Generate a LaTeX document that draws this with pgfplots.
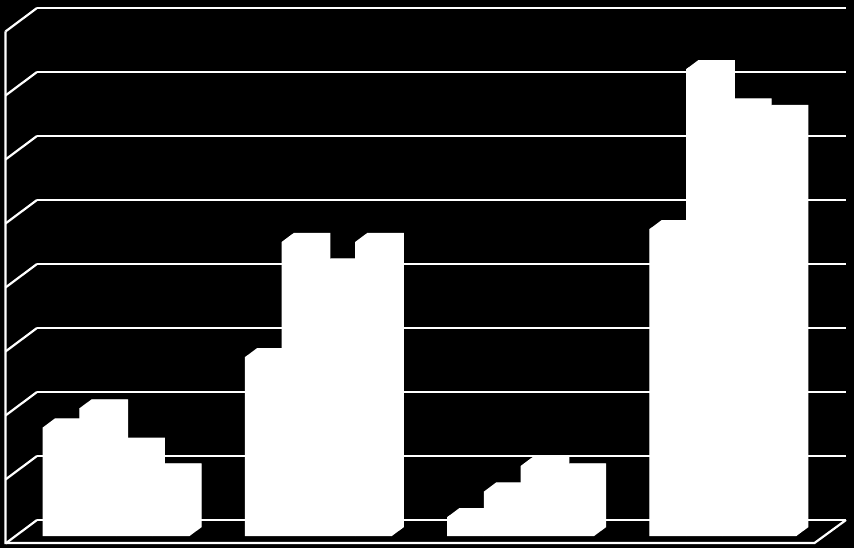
\documentclass[border=0pt]{standalone}
\usepackage{pgfplots}
\usepackage{pgfplotstable}
\pgfplotsset{compat=1.18}

\pgfplotstableread{
g   a    b    c    d
0.5 8.5  10   7    5
1.5 14   23   21   23
2.5 1.5  3.5  5.5  5
3.5 24   36.5 33.5 33
}\bars

\begin{document}
\begin{tikzpicture}[x=1pt,y=1pt]
\fill[black] (0,0) rectangle (854,548);
\useasboundingbox (0,0) rectangle (854,548);
\begin{axis}[
  at={(37pt,28pt)}, anchor=south west,
  scale only axis,
  width=809pt, height=512pt,
  xmin=0, xmax=4,
  ymin=0, ymax=40,
  clip=false,
  xtick=\empty,
  ytick={0,5,...,40},
  yticklabels={},
  axis line style={draw=none},
  tick style={draw=none},
  ymajorgrids,
  major grid style={white,line width=2.2pt},
  barlayer/.style={ybar,bar width=36.7pt,fill=white,draw=none,
    xshift={-10pt-0.5pt*#1},yshift={-7.3pt-0.37pt*#1}},
]
% side wall and floor
\pgfplotsinvokeforeach{0,5,...,40}{
  \draw[white,line width=2.2pt] (axis cs:0,#1) -- ++(-31.5pt,-23.5pt);
}
\draw[white,line width=2.2pt,line join=miter]
  (axis cs:0,40) ++(-31.5pt,-23.5pt) -- ++(0,-511.5pt) -- ++(809pt,0) -- (axis cs:4,0);

% bars, extruded from back face to front face
\pgfplotsinvokeforeach{0,...,24}{
  \addplot[barlayer=#1,bar shift=-55.05pt] table[x=g,y=a]{\bars};
  \addplot[barlayer=#1,bar shift=-18.35pt] table[x=g,y=b]{\bars};
  \addplot[barlayer=#1,bar shift=18.35pt] table[x=g,y=c]{\bars};
  \addplot[barlayer=#1,bar shift=55.05pt] table[x=g,y=d]{\bars};
}
\end{axis}
\end{tikzpicture}
\end{document}
